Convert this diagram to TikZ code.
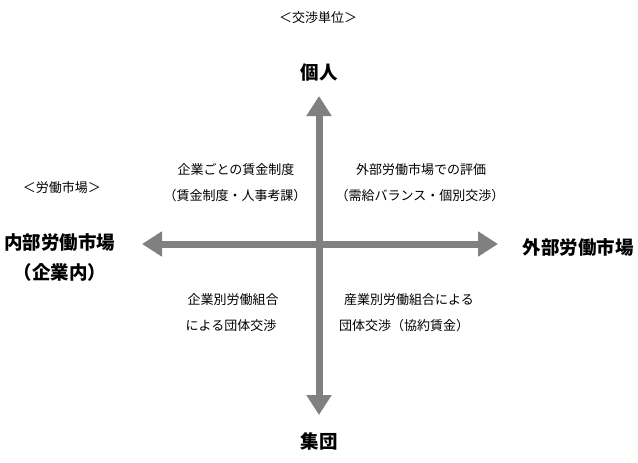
\documentclass[tikz,border=0pt]{standalone}
\usepackage{fontspec}
\setmainfont{Noto Sans CJK JP}
\usetikzlibrary{arrows.meta}
\tikzset{
  axis/.style={line width=7pt, draw={rgb,255:red,128;green,128;blue,128}, {Triangle[width=24pt,length=20pt]}-{Triangle[width=24pt,length=20pt]}},
  lbl/.style={font=\fontsize{13pt}{15pt}\selectfont, inner sep=0pt, align=center},
  bold/.style={font=\fontsize{18.5pt}{20pt}\selectfont\bfseries, inner sep=0pt, align=center},
}
\begin{document}
\begin{tikzpicture}[x=1pt,y=-1pt]
\useasboundingbox (0,0) rectangle (638,463);
\coordinate (top) at (319,96);
\coordinate (bot) at (319,415);
\coordinate (lft) at (142,244);
\coordinate (rgt) at (498,244);
\draw[axis] (lft) -- (rgt);
\draw[axis] (bot) -- (top);
\node[lbl] (unit) at (318,18) {＜交渉単位＞};
\node[bold] (indiv) at (319,72) {個人};
\node[bold] (group) at (319,441) {集団};
\node[lbl] (mkt) at (62,188) {＜労働市場＞};
\node[bold] (inner) at (60,242) {内部労働市場};
\node[bold] (innersub) at (60,272) {（企業内）};
\node[bold] (outer) at (578,247) {外部労働市場};
\node[lbl] (q1a) at (236,170) {企業ごとの賃金制度};
\node[lbl] (q1b) at (235,196) {（賃金制度・人事考課）};
\node[lbl] (q2a) at (421,170) {外部労働市場での評価};
\node[lbl] (q2b) at (420,196) {（需給バランス・個別交渉）};
\node[lbl] (q3a) at (233,300) {企業別労働組合};
\node[lbl] (q3b) at (231,326) {による団体交渉};
\node[lbl] (q4a) at (409,300) {産業別労働組合による};
\node[lbl] (q4b) at (404,326) {団体交渉（協約賃金）};
\end{tikzpicture}
\end{document}
